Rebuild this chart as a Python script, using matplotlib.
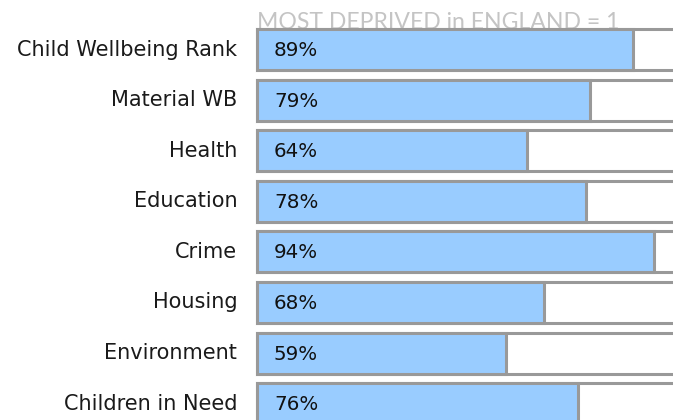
import matplotlib
matplotlib.use("Agg")
import matplotlib.pyplot as plt

categories = ["Child Wellbeing Rank", "Material WB", "Health", "Education",
              "Crime", "Housing", "Environment", "Children in Need"]
values = [89, 79, 64, 78, 94, 68, 59, 76]
title = "MOST DEPRIVED in ENGLAND = 1"

W, H = 673, 420
fig = plt.figure(figsize=(W / 100, H / 100), dpi=100)
fig.patch.set_facecolor("white")

# axes: x 0..100 maps to pixel 257..679 (extends past figure edge, clipped)
x0, x1 = 257, 679
ax = fig.add_axes([x0 / W, 0, (x1 - x0) / W, 1])
pitch = 50.6
c0 = 49.5
ax.set_ylim((H - c0) / pitch, -c0 / pitch)
ax.set_xlim(0, 100)
ax.axis("off")

n = len(categories)
ys = list(range(n))
bh = 41 / pitch
edge = "#999999"
lw = 2.2
ax.barh(ys, [100] * n, height=bh, left=0, color="white", edgecolor=edge,
        linewidth=lw, zorder=2, clip_on=False)
ax.barh(ys, values, height=bh, left=0, color="#99ccff", edgecolor=edge,
        linewidth=lw, zorder=3, clip_on=False)

for y, v, c in zip(ys, values, categories):
    ax.text(4.0, y + 0.02, f"{v}%", va="center", ha="left", fontsize=14.3,
            family="DejaVu Sans", color="#111111", zorder=4)
    ax.text(-4.7, y, c, va="center", ha="right", fontsize=15.0,
            family="DejaVu Sans", color="#1a1a1a", clip_on=False)

ax.text(0, -0.405, title, ha="left", va="baseline", fontsize=16.6,
        family="Lato", color="#c4c4c4", zorder=1, clip_on=False)

fig.savefig("out.png", dpi=100)
